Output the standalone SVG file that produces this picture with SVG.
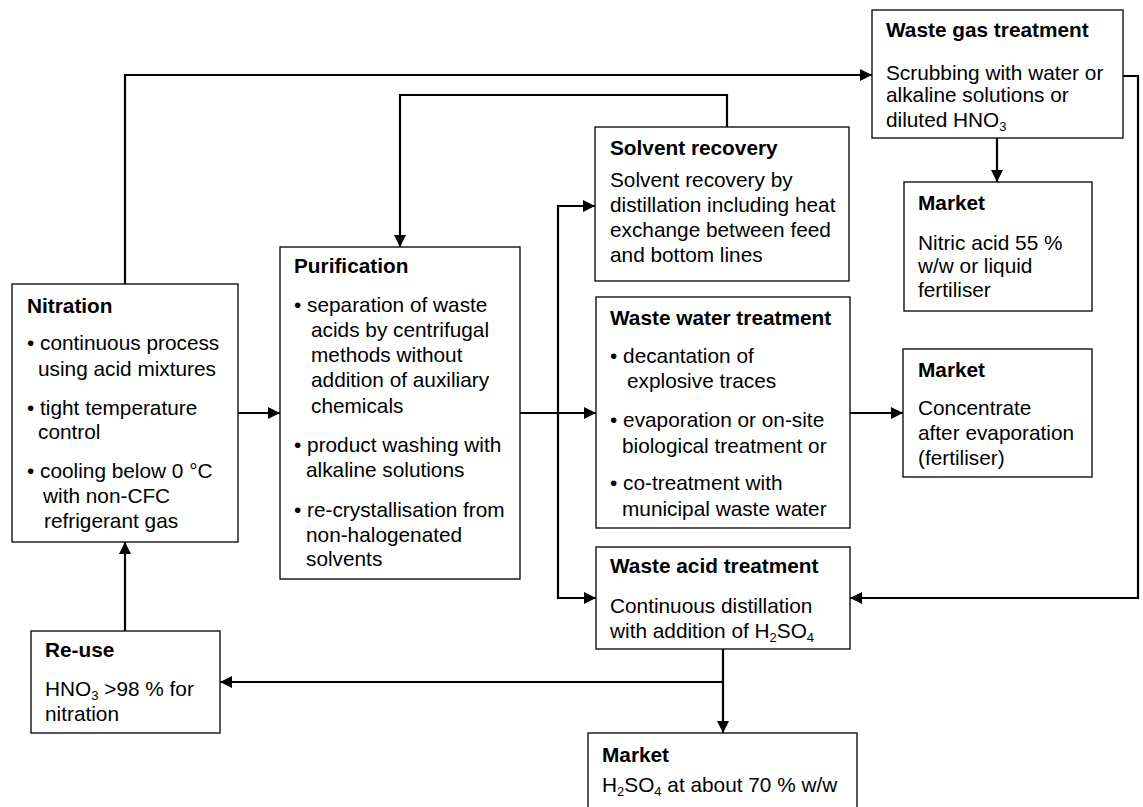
<svg xmlns="http://www.w3.org/2000/svg" width="1143" height="807" viewBox="0 0 1143 807">
<style>
.box{fill:#fff;stroke:#111;stroke-width:1.4}
.t{font-family:"Liberation Sans",Arial,sans-serif;font-size:20.8px;fill:#000}
.b{font-weight:bold}
.sub{font-size:13px}
.c{fill:none;stroke:#000;stroke-width:2.2}
</style>
<defs>
<marker id="ah" markerUnits="userSpaceOnUse" viewBox="0 0 12 12" refX="12" refY="6" markerWidth="12" markerHeight="12" orient="auto">
<path d="M0,0 L12,6 L0,12 z" fill="#000"/>
</marker>
</defs>
<rect width="1143" height="807" fill="#fff"/>
<g id="connectors">
<path class="c" d="M125,284 V75 H872" marker-end="url(#ah)"/>
<path class="c" d="M1123,76 H1138 V598 H850" marker-end="url(#ah)"/>
<path class="c" d="M997,138 V182" marker-end="url(#ah)"/>
<path class="c" d="M727,127 V95 H400 V247" marker-end="url(#ah)"/>
<path class="c" d="M238,413 H280" marker-end="url(#ah)"/>
<path class="c" d="M520,413 H596" marker-end="url(#ah)"/>
<path class="c" d="M558,413 V206 H595" marker-end="url(#ah)"/>
<path class="c" d="M558,413 V598 H596" marker-end="url(#ah)"/>
<path class="c" d="M850,413 H903" marker-end="url(#ah)"/>
<path class="c" d="M723,649 V733" marker-end="url(#ah)"/>
<path class="c" d="M723,682 H220" marker-end="url(#ah)"/>
<path class="c" d="M125,631 V542" marker-end="url(#ah)"/>
</g>
<g id="nitration">
<rect class="box" x="12" y="284" width="226" height="258"/>
<text class="t b" x="27" y="313">Nitration</text>
<text class="t" x="27" y="350">• continuous process</text>
<text class="t" x="38" y="376">using acid mixtures</text>
<text class="t" x="27" y="415">• tight temperature</text>
<text class="t" x="38" y="439">control</text>
<text class="t" x="27" y="478">• cooling below 0 °C</text>
<text class="t" x="43" y="503">with non-CFC</text>
<text class="t" x="44" y="528">refrigerant gas</text>
</g>
<g id="purification">
<rect class="box" x="280" y="247" width="240" height="332"/>
<text class="t b" x="294" y="273">Purification</text>
<text class="t" x="294" y="312">• separation of waste</text>
<text class="t" x="311" y="337">acids by centrifugal</text>
<text class="t" x="311" y="362">methods without</text>
<text class="t" x="311" y="387">addition of auxiliary</text>
<text class="t" x="311" y="413">chemicals</text>
<text class="t" x="294" y="452">• product washing with</text>
<text class="t" x="306" y="477">alkaline solutions</text>
<text class="t" x="294" y="517">• re-crystallisation from</text>
<text class="t" x="306" y="542">non-halogenated</text>
<text class="t" x="306" y="566">solvents</text>
</g>
<g id="solvent-recovery">
<rect class="box" x="595" y="127" width="254" height="154"/>
<text class="t b" x="610" y="155">Solvent recovery</text>
<text class="t" x="610" y="187">Solvent recovery by</text>
<text class="t" x="610" y="212">distillation including heat</text>
<text class="t" x="610" y="237">exchange between feed</text>
<text class="t" x="610" y="262">and bottom lines</text>
</g>
<g id="waste-water">
<rect class="box" x="596" y="297" width="254" height="231"/>
<text class="t b" x="610" y="325">Waste water treatment</text>
<text class="t" x="610" y="363">• decantation of</text>
<text class="t" x="627" y="388">explosive traces</text>
<text class="t" x="610" y="427">• evaporation or on-site</text>
<text class="t" x="622" y="453">biological treatment or</text>
<text class="t" x="610" y="490">• co-treatment with</text>
<text class="t" x="622" y="516">municipal waste water</text>
</g>
<g id="waste-acid">
<rect class="box" x="596" y="547" width="254" height="102"/>
<text class="t b" x="610" y="573">Waste acid treatment</text>
<text class="t" x="610" y="613">Continuous distillation</text>
<text class="t" x="610" y="638">with addition of H<tspan class="sub" dy="4">2</tspan><tspan dy="-4">SO</tspan><tspan class="sub" dy="4">4</tspan></text>
</g>
<g id="waste-gas">
<rect class="box" x="872" y="10" width="251" height="128"/>
<text class="t b" x="886" y="37">Waste gas treatment</text>
<text class="t" x="886" y="80">Scrubbing with water or</text>
<text class="t" x="886" y="102">alkaline solutions or</text>
<text class="t" x="886" y="127">diluted HNO<tspan class="sub" dy="4">3</tspan></text>
</g>
<g id="market-nitric">
<rect class="box" x="904" y="182" width="188" height="129"/>
<text class="t b" x="918" y="210">Market</text>
<text class="t" x="918" y="250">Nitric acid 55 %</text>
<text class="t" x="918" y="273">w/w or liquid</text>
<text class="t" x="918" y="297">fertiliser</text>
</g>
<g id="market-concentrate">
<rect class="box" x="903" y="349" width="189" height="128"/>
<text class="t b" x="918" y="377">Market</text>
<text class="t" x="918" y="415">Concentrate</text>
<text class="t" x="918" y="440">after evaporation</text>
<text class="t" x="918" y="465">(fertiliser)</text>
</g>
<g id="re-use">
<rect class="box" x="31" y="631" width="189" height="102"/>
<text class="t b" x="45" y="657">Re-use</text>
<text class="t" x="45" y="696">HNO<tspan class="sub" dy="4">3</tspan><tspan dy="-4"> &gt;98 % for</tspan></text>
<text class="t" x="45" y="721">nitration</text>
</g>
<g id="market-sulfuric">
<rect class="box" x="588" y="733" width="269" height="90"/>
<text class="t b" x="602" y="762">Market</text>
<text class="t" x="602" y="792">H<tspan class="sub" dy="4">2</tspan><tspan dy="-4">SO</tspan><tspan class="sub" dy="4">4</tspan><tspan dy="-4"> at about 70 % w/w</tspan></text>
</g>
</svg>
